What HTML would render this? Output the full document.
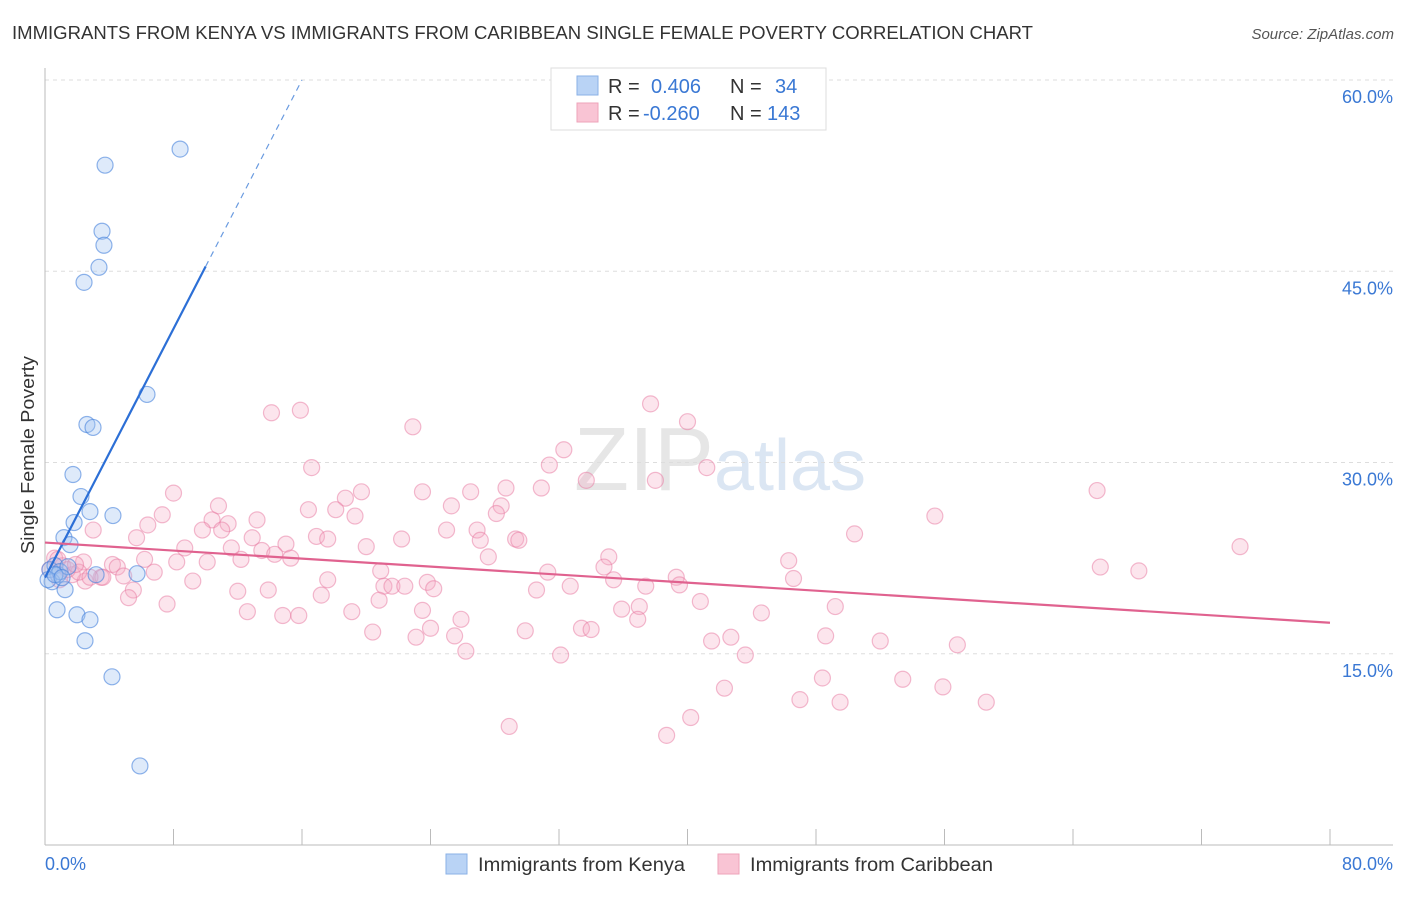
<!DOCTYPE html>
<html><head><meta charset="utf-8"><style>
body{margin:0;background:#fff;font-family:"Liberation Sans",sans-serif;}
svg text{font-family:"Liberation Sans",sans-serif;}
</style></head><body>
<svg id="chart" width="1406" height="892" xmlns="http://www.w3.org/2000/svg">
<text x="12" y="39" font-size="18" fill="#333" textLength="1021" lengthAdjust="spacingAndGlyphs">IMMIGRANTS FROM KENYA VS IMMIGRANTS FROM CARIBBEAN SINGLE FEMALE POVERTY CORRELATION CHART</text>
<text x="1394" y="39" font-size="15" fill="#555" text-anchor="end" font-style="italic">Source: ZipAtlas.com</text>
<text x="720" y="490" font-size="90" fill="#e6e6e6" text-anchor="middle" font-family="Liberation Serif">ZIP<tspan fill="#dbe6f3" font-family="Liberation Sans" font-size="72">atlas</tspan></text>
<text transform="translate(34,455) rotate(-90)" font-size="18" fill="#333" text-anchor="middle" textLength="198" lengthAdjust="spacingAndGlyphs">Single Female Poverty</text>
<g id="grid"></g><g id="axes"></g><g id="pink"></g><g id="blue"></g><g id="lines"></g>
<g>
<rect x="551" y="68" width="275" height="62" fill="#fff" stroke="#ddd"/>
<rect x="577" y="76" width="21" height="19" fill="#b9d3f5" stroke="#8ab0e6"/>
<rect x="577" y="103" width="21" height="19" fill="#f9c4d4" stroke="#eea3ba"/>
<text x="608" y="93" font-size="20" fill="#333">R =</text><text x="651" y="93" font-size="20" fill="#3a78d4">0.406</text>
<text x="730" y="93" font-size="20" fill="#333">N =</text><text x="775" y="93" font-size="20" fill="#3a78d4">34</text>
<text x="608" y="120" font-size="20" fill="#333">R =</text><text x="643" y="120" font-size="20" fill="#3a78d4">-0.260</text>
<text x="730" y="120" font-size="20" fill="#333">N =</text><text x="767" y="120" font-size="20" fill="#3a78d4">143</text>
</g>
<g>
<rect x="446" y="854" width="21" height="20" fill="#b9d3f5" stroke="#8ab0e6"/>
<text x="478" y="871" font-size="19" fill="#333" textLength="207" lengthAdjust="spacingAndGlyphs">Immigrants from Kenya</text>
<rect x="718" y="854" width="21" height="20" fill="#f9c4d4" stroke="#eea3ba"/>
<text x="750" y="871" font-size="19" fill="#333" textLength="243" lengthAdjust="spacingAndGlyphs">Immigrants from Caribbean</text>
</g>
</svg>
<script>
const yTicks=[15,30,45,60];
const yTickLabels=["15.0%","30.0%","45.0%","60.0%"];
const xTickLabels=["0.0%","80.0%"];
const kenyaX=[8.41,3.74,3.55,3.67,3.36,2.43,6.35,2.61,2.99,1.74,2.24,1.81,4.23,2.80,1.18,1.56,0.31,0.62,0.81,0.44,0.93,1.43,3.18,5.73,0.19,1.25,0.75,1.99,2.80,2.49,4.17,5.91,0.62,1.06];
const kenyaY=[54.58,53.32,48.14,47.04,45.31,44.13,35.34,32.98,32.75,29.06,27.33,25.29,25.84,26.15,24.11,23.56,21.60,21.91,21.20,20.65,21.44,21.83,21.20,21.28,20.81,20.03,18.45,18.06,17.67,16.02,13.19,6.20,21.20,20.97];
const caribX=[14.1,15.9,22.9,37.7,40.0,32.3,31.4,16.6,41.2,33.7,38.0,8.0,19.7,23.5,26.5,28.7,30.9,18.7,65.5,10.8,25.3,28.4,16.4,18.1,7.3,19.3,28.1,6.4,10.4,11.4,13.2,55.4,3.0,9.8,11.0,26.9,25.0,5.7,12.9,16.9,17.6,22.2,27.1,29.3,29.5,50.4,74.4,8.7,11.6,15.0,20.0,27.6,6.2,8.2,10.1,12.2,13.5,14.3,15.3,35.1,46.3,2.4,4.2,4.5,6.8,20.9,31.3,34.8,65.7,68.1,3.5,4.9,39.3,35.4,17.6,23.8,39.5,46.6,2.5,21.1,21.6,22.4,24.2,32.7,37.4,9.2,5.5,5.2,12.0,17.2,20.8,30.6,7.6,13.9,40.8,12.6,19.1,23.5,35.9,37.0,49.2,14.8,15.8,25.9,36.9,44.6,24.0,33.4,34.0,29.9,20.4,25.5,23.1,41.5,42.7,48.6,52.0,56.8,26.2,32.1,43.6,48.4,53.4,42.3,55.9,47.0,49.5,58.6,40.2,28.9,38.7,0.6,1.1,1.7,0.3,0.8,1.4,2.1,0.9,2.8,1.9,3.6];
const caribY=[33.9,34.1,32.8,34.6,33.2,31.0,29.8,29.6,29.6,28.6,28.6,27.6,27.7,27.7,27.7,28.0,28.0,27.2,27.8,26.6,26.6,26.6,26.3,26.3,25.9,25.8,26.0,25.1,25.5,25.2,25.5,25.8,24.7,24.7,24.7,24.7,24.7,24.1,24.1,24.2,24.0,24.0,23.9,24.0,23.9,24.4,23.4,23.3,23.3,23.6,23.4,22.6,22.4,22.2,22.2,22.4,23.1,22.8,22.5,22.6,22.3,22.2,22.0,21.8,21.4,21.5,21.4,21.8,21.8,21.5,21.0,21.1,21.0,20.8,20.8,20.6,20.4,20.9,20.7,20.3,20.3,20.3,20.1,20.3,20.3,20.7,20.0,19.4,19.9,19.6,19.2,20.0,18.9,20.0,19.1,18.3,18.3,18.4,18.5,18.7,18.7,18.0,18.0,17.7,17.7,18.2,17.0,17.0,16.9,16.8,16.7,16.4,16.3,16.0,16.3,16.4,16.0,15.7,15.2,14.9,14.9,13.1,13.0,12.3,12.4,11.4,11.2,11.2,10.0,9.3,8.6,22.5,21.9,21.2,21.6,22.4,21.6,21.4,20.8,21.0,22.0,21.0];
const kenyaFit=[20.97,2.44];   // intercept, slope
const caribFit=[23.72,-0.0786];
const X=v=>45+v*(1285/80);
const Y=v=>845-v*(765/60);
const NS="http://www.w3.org/2000/svg";
function mk(parent,tag,attrs){const e=document.createElementNS(NS,tag);for(const k in attrs)e.setAttribute(k,attrs[k]);document.getElementById(parent).appendChild(e);return e;}
yTicks.forEach((t,i)=>{
  const l=mk('grid','line',{x1:45,x2:1393,y1:Y(t),y2:Y(t),stroke:'#ddd','stroke-dasharray':'4,4'});
  
  
  const tx=mk('grid','text',{x:1393,y:Y(t)+23,'font-size':18,fill:'#3a78d4','text-anchor':'end'});
  tx.textContent=yTickLabels[i];
  
  
});
const ax=mk('axes','line',{x1:45,x2:45,y1:68,y2:845,stroke:'#bbb'});


const bx=mk('axes','line',{x1:45,x2:1393,y1:845,y2:845,stroke:'#bbb'});


for(let i=0;i<=10;i++){
  const t=mk('axes','line',{x1:X(i*8),x2:X(i*8),y1:829,y2:845,stroke:'#bbb'});
  
  
}
[[0,'start',45],[80,'end',1393]].forEach((d,i)=>{
  const tx=mk('axes','text',{x:d[2],y:870,'font-size':18,fill:'#3a78d4','text-anchor':d[1]});
  tx.textContent=xTickLabels[i];
  
  
});
caribX.forEach((v,i)=>{
  const c=mk('pink','circle',{cx:X(v),cy:Y(caribY[i]),r:8,fill:'rgba(246,170,195,0.3)',stroke:'rgba(232,120,160,0.5)','stroke-width':1.2});
  
  
});
kenyaX.forEach((v,i)=>{
  const c=mk('blue','circle',{cx:X(v),cy:Y(kenyaY[i]),r:8,fill:'rgba(160,195,240,0.35)',stroke:'rgba(70,130,220,0.6)','stroke-width':1.2});
  
  
});
const xs=10;
const kl=mk('lines','line',{x1:X(0),y1:Y(kenyaFit[0]),x2:X(xs),y2:Y(kenyaFit[0]+kenyaFit[1]*xs),stroke:'#2c6fd6','stroke-width':2.2});


const xe=(60-kenyaFit[0])/kenyaFit[1];
const kd=mk('lines','line',{x1:X(xs),y1:Y(kenyaFit[0]+kenyaFit[1]*xs),x2:X(xe),y2:Y(60),stroke:'#6a9be0','stroke-width':1.2,'stroke-dasharray':'6,5'});


const cl=mk('lines','line',{x1:X(0),y1:Y(caribFit[0]),x2:X(80),y2:Y(caribFit[0]+caribFit[1]*80),stroke:'#e0628f','stroke-width':2.2});


</script>
</body></html>
